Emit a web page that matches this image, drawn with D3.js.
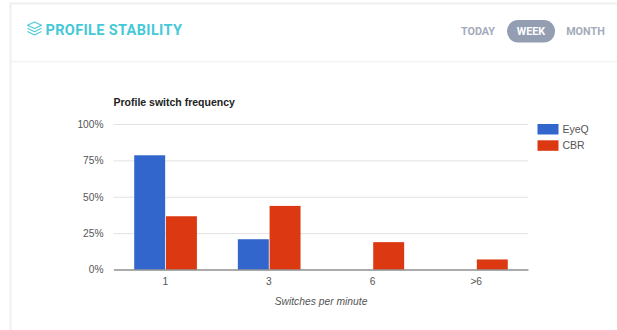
<!DOCTYPE html>
<html>
<head>
<meta charset="utf-8">
<script src="https://cdn.jsdelivr.net/npm/d3@7/dist/d3.min.js"></script>
<style>
html,body{margin:0;padding:0;background:#fff;overflow:hidden}
svg{display:block}
</style>
</head>
<body>
<svg id="chart" width="617" height="330"></svg>
<script>
const categories = ["1", "3", "6", ">6"];
const seriesNames = ["EyeQ", "CBR"];
const eyeQValues = [78.5, 20.8, 0, 0];
const cbrValues = [36.6, 43.7, 18.8, 6.9];
const percentTicks = [0, 25, 50, 75, 100];
const rangeLabels = ["TODAY", "WEEK", "MONTH"];
const seriesColors = ["#3366cc", "#dc3912"];

const svg = d3.select("#chart");
const chartFont = "'Liberation Sans', Arial, sans-serif";
const uiFont = "Roboto, sans-serif";

// Card outline and header divider
svg.append("path").attr("d", "M10.5 330V3.5H617").attr("fill", "none").attr("stroke", "#efefef").attr("stroke-width", 2);
svg.append("line").attr("x1", 11).attr("x2", 617).attr("y1", 61.5).attr("y2", 61.5).attr("stroke", "#f3f3f3").attr("stroke-width", 1.5);

// Stacked-layers icon beside the card title
const icon = svg.append("g").attr("transform", "translate(34.5,28.5)").attr("fill", "none").attr("stroke", "#4cc9d8").attr("stroke-width", 1.2).attr("stroke-linejoin", "round");
icon.append("path").attr("d", "M0 -6.5L7 -3.3L0 0L-7 -3.3Z");
icon.append("path").attr("d", "M-7 -0.2L0 3.2L7 -0.2");
icon.append("path").attr("d", "M-7 3L0 6.5L7 3");

svg.append("text").attr("x", 45.5).attr("y", 34.5).text("PROFILE STABILITY")
  .attr("font-family", uiFont).attr("font-weight", 700).attr("font-size", 14.5)
  .attr("letter-spacing", 0.35).attr("fill", "#45c8d7");

// Time range switch
svg.append("rect").attr("x", 507).attr("y", 20).attr("width", 48).attr("height", 22.5).attr("rx", 11.2).attr("fill", "#939eb3");
const rangeX = [478, 531, 585.5];
svg.selectAll("text.range").data(rangeLabels).join("text").attr("class", "range")
  .attr("x", (d, i) => rangeX[i]).attr("y", 35).attr("text-anchor", "middle")
  .attr("font-family", uiFont).attr("font-weight", 700).attr("font-size", 10.8)
  .attr("fill", d => d === "WEEK" ? "#fff" : "#a3abba").text(d => d);

// Chart scales
const x = d3.scaleBand().domain(categories).range([113.5, 528]);
const barGroup = d3.scaleBand().domain(seriesNames).range([0, 63.5]);
const y = d3.scaleLinear().domain([0, 100]).range([269.5, 124]);

svg.append("text").attr("x", 113.5).attr("y", 106).text("Profile switch frequency")
  .attr("font-family", chartFont).attr("font-weight", 700).attr("font-size", 10.5).attr("fill", "#222");

// Gridlines and percent axis
const yAxis = d3.axisLeft(y).tickValues(percentTicks).tickFormat(d => d + "%").tickSize(-(528 - 113.5)).tickPadding(10);
const yG = svg.append("g").attr("transform", "translate(113.5,0)").call(yAxis);
yG.select(".domain").remove();
yG.selectAll("line").attr("stroke", "#e2e2e2").attr("stroke-width", 1);
yG.selectAll("text").attr("font-family", chartFont).attr("font-size", 10.2).attr("fill", "#555");

// Grouped bars, one group per series
seriesNames.forEach((name, s) => {
  const values = s === 0 ? eyeQValues : cbrValues;
  svg.append("g").selectAll("rect").data(values).join("rect")
    .attr("x", (d, i) => x(categories[i]) + x.bandwidth() / 2 - 31.5 + barGroup(name) + 0.4)
    .attr("width", barGroup.bandwidth() - 0.8)
    .attr("y", d => y(d))
    .attr("height", d => y(0) - y(d))
    .attr("fill", seriesColors[s]);
});

// Baseline and category axis
const xAxis = d3.axisBottom(x).tickSize(0).tickPadding(8.5);
const xG = svg.append("g").attr("transform", "translate(0,269.5)").call(xAxis);
xG.select(".domain").attr("stroke", "#666").attr("stroke-width", 1.2);
xG.selectAll("text").attr("font-family", chartFont).attr("font-size", 10.2).attr("fill", "#555");

svg.append("text").attr("x", 321).attr("y", 304.5).attr("text-anchor", "middle").text("Switches per minute")
  .attr("font-family", chartFont).attr("font-style", "italic").attr("font-size", 10.3).attr("fill", "#555");

// Legend
const legend = svg.append("g").selectAll("g").data(seriesNames).join("g")
  .attr("transform", (d, i) => `translate(537.5,${124 + i * 16.3})`);
legend.append("rect").attr("width", 21).attr("height", 10.5).attr("fill", (d, i) => seriesColors[i]);
legend.append("text").attr("x", 25).attr("y", 9).text(d => d)
  .attr("font-family", chartFont).attr("font-size", 10.5).attr("fill", "#555");
</script>
</body>
</html>
